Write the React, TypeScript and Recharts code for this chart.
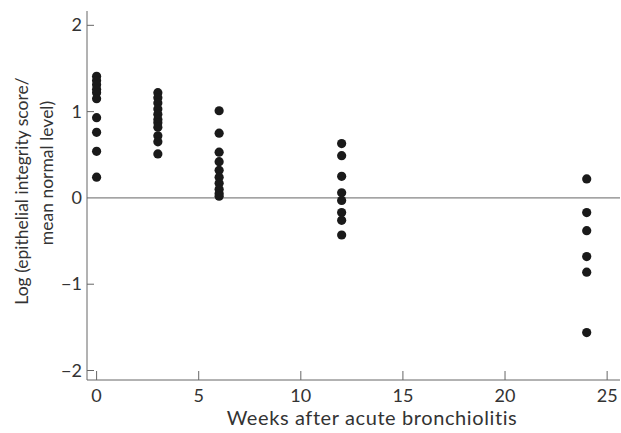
import { ScatterChart, Scatter, XAxis, YAxis, ReferenceLine, Label } from 'recharts';

const weeks = [0, 3, 6, 12, 24];
const week0 = [1.41, 1.36, 1.31, 1.26, 1.22, 1.15, 0.93, 0.76, 0.54, 0.24];
const week3 = [1.22, 1.16, 1.1, 1.03, 0.97, 0.91, 0.87, 0.82, 0.72, 0.65, 0.51];
const week6 = [1.01, 0.75, 0.53, 0.42, 0.32, 0.24, 0.17, 0.1, 0.05, 0.02];
const week12 = [0.63, 0.49, 0.25, 0.06, -0.03, -0.17, -0.26, -0.43];
const week24 = [0.22, -0.17, -0.38, -0.68, -0.86, -1.56];

const xTicks = [0, 5, 10, 15, 20, 25];
const yTicks = [-2, -1, 0, 1, 2];

const points = [week0, week3, week6, week12, week24].flatMap((vals, i) =>
  vals.map((v) => ({ week: weeks[i], score: v }))
);

const FONT = 'Lato, "DejaVu Sans", sans-serif';
const TEXT = '#333';
const AXIS = '#666';

const fmt = (v: number) => (v < 0 ? `\u2212${Math.abs(v)}` : `${v}`);

function XTick({ x, y, payload }: any) {
  return (
    <g>
      <line x1={x} x2={x} y1={y - 8} y2={y - 17} stroke={AXIS} strokeWidth={1} />
      <text x={x} y={y + 14} textAnchor="middle" fill={TEXT} fontSize={18} fontFamily={FONT}>
        {fmt(payload.value)}
      </text>
    </g>
  );
}

function YTick({ x, y, payload }: any) {
  return (
    <g>
      {payload.value !== 0 && (
        <line x1={x + 5} x2={x + 12} y1={y} y2={y} stroke={AXIS} strokeWidth={1} />
      )}
      <text x={x} y={y + 6} textAnchor="end" fill={TEXT} fontSize={18} fontFamily={FONT}>
        {fmt(payload.value)}
      </text>
    </g>
  );
}

function YLabel() {
  return (
    <text transform="rotate(-90)" textAnchor="middle" fill={TEXT} fontSize={17.5} fontFamily={FONT}>
      <tspan x={-191} y={28}>Log (epithelial integrity score/</tspan>
      <tspan x={-173} y={53}>mean normal level)</tspan>
    </text>
  );
}

function XLabel() {
  return (
    <text
      x={372}
      y={425}
      textAnchor="middle"
      fill={TEXT}
      fontSize={20}
      letterSpacing={0.6}
      fontFamily={FONT}
    >
      Weeks after acute bronchiolitis
    </text>
  );
}

export default function App() {
  return (
    <div style={{ position: 'absolute', left: 0, top: 0, background: '#fff' }}>
      <ScatterChart width={621} height={433} margin={{ top: 11, right: 1, bottom: 23, left: 0 }}>
        <XAxis
          type="number"
          dataKey="week"
          height={30}
          domain={[-0.47, 25.63]}
          ticks={xTicks}
          tick={<XTick />}
          tickLine={false}
          tickSize={0}
          tickMargin={8}
          axisLine={{ stroke: AXIS }}
          allowDataOverflow
        >
          <Label content={<XLabel />} />
        </XAxis>
        <YAxis
          type="number"
          dataKey="score"
          width={87}
          domain={[-2.11, 2.166]}
          ticks={yTicks}
          tick={<YTick />}
          tickLine={false}
          tickSize={0}
          tickMargin={5}
          axisLine={{ stroke: AXIS }}
          allowDataOverflow
          label={<YLabel />}
        />
        <ReferenceLine y={0} stroke={AXIS} strokeWidth={1} />
        <Scatter
          data={points}
          fill="#1a1a1a"
          isAnimationActive={false}
          shape={(p: any) => <circle cx={p.cx} cy={p.cy} r={4.6} fill="#1a1a1a" />}
        />
      </ScatterChart>
    </div>
  );
}
